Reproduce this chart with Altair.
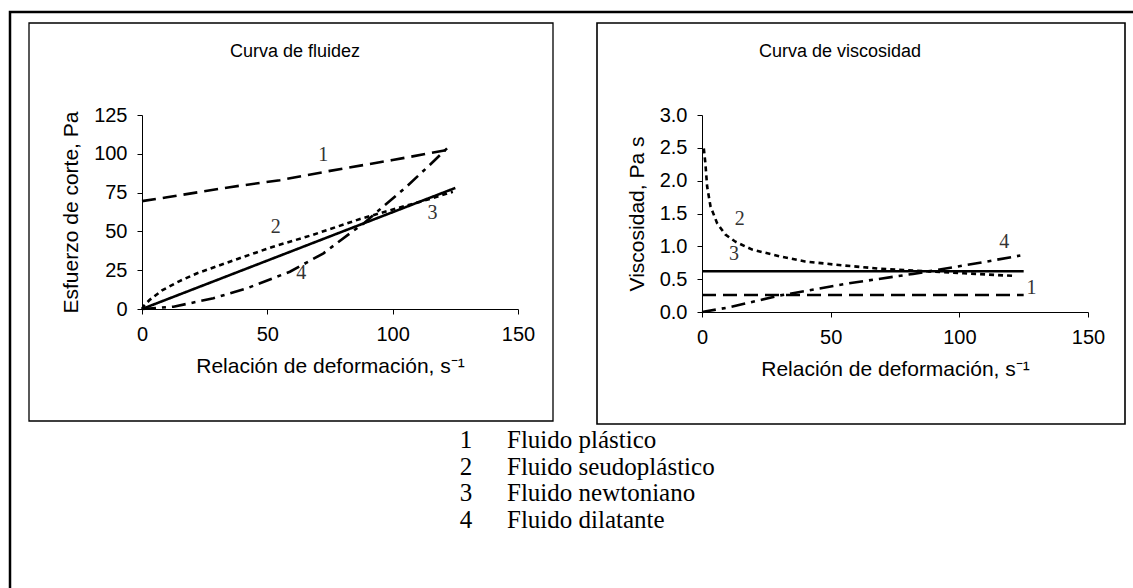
import altair as alt
import pandas as pd

W, H = 1133, 588

# ---- Curva de fluidez: relación de deformación (1/s) vs esfuerzo de corte (Pa)
plast_rate = [0, 10, 35, 55, 75, 100, 122]
plast_tau = [69.5, 72, 78.5, 83, 89, 96, 102.5]
seudo_rate = [0, 1, 3, 8, 15, 22, 35, 52, 68, 87, 102, 115, 124]
seudo_tau = [0, 2.5, 5.8, 12, 18, 23, 30.5, 40, 47.7, 58, 65, 71, 75.5]
newt_rate = [0, 125]
newt_tau = [0, 78]
dilat_rate = [0, 12.6, 28.5, 41.8, 59, 72.4, 83, 88.3, 96.2, 105.5, 114.8, 122]
dilat_tau = [0, 1.5, 6.9, 13.3, 24, 35.9, 48.8, 55, 66, 78.8, 92.8, 104]

# ---- Curva de viscosidad: relación de deformación (1/s) vs viscosidad (Pa s)
plast_v_rate = [0, 125]
plast_visc = [0.26, 0.26]
seudo_v_rate = [0.7, 1.3, 2, 3.3, 5.9, 9.1, 13, 19.5, 30, 40, 52, 69, 82, 101.6, 121]
seudo_visc = [2.49, 2.27, 1.91, 1.61, 1.35, 1.18, 1.07, 0.95, 0.85, 0.77, 0.72, 0.66, 0.63, 0.59, 0.55]
newt_v_rate = [0, 125]
newt_visc = [0.62, 0.62]
dilat_v_rate = [0, 10.4, 30, 56, 82, 108, 123.7]
dilat_visc = [0, 0.07, 0.25, 0.43, 0.58, 0.75, 0.86]

# curve number tags (position in data units)
flow_tag_id = ["1", "2", "3", "4"]
flow_tag_x = [72.3, 53.4, 115.9, 63.5]
flow_tag_y = [99.3, 53, 62, 23]
visc_tag_id = ["1", "2", "3", "4"]
visc_tag_x = [128, 14.7, 12.4, 117.5]
visc_tag_y = [0.36, 1.41, 0.89, 1.06]

# legend below the panels
legend_ids = ["1", "2", "3", "4"]
legend_names = ["Fluido plástico", "Fluido seudoplástico", "Fluido newtoniano", "Fluido dilatante"]

# axis ticks
flow_x_ticks = [0, 50, 100, 150]
flow_y_ticks = [0, 25, 50, 75, 100, 125]
visc_x_ticks = [0, 50, 100, 150]
visc_y_ticks = [0, 0.5, 1.0, 1.5, 2.0, 2.5, 3.0]


def series_frame(parts):
    rows = []
    for sid, xs, ys in parts:
        rows += [{"serie": sid, "rate": a, "val": b} for a, b in zip(xs, ys)]
    return pd.DataFrame(rows)


flow_df = series_frame([
    ("1", plast_rate, plast_tau),
    ("2", seudo_rate, seudo_tau),
    ("3", newt_rate, newt_tau),
    ("4", dilat_rate, dilat_tau),
])
visc_df = series_frame([
    ("1", plast_v_rate, plast_visc),
    ("2", seudo_v_rate, seudo_visc),
    ("3", newt_v_rate, newt_visc),
    ("4", dilat_v_rate, dilat_visc),
])
flow_tags = pd.DataFrame({"serie": flow_tag_id, "rate": flow_tag_x, "val": flow_tag_y})
visc_tags = pd.DataFrame({"serie": visc_tag_id, "rate": visc_tag_x, "val": visc_tag_y})
legend_df = pd.DataFrame({"row": list(range(len(legend_ids))), "id": legend_ids, "name": legend_names})

# pixel geometry of the two plotting regions on the page
L_X0, L_X1, L_Y0, L_Y1 = 142, 518, 309, 115
R_X0, R_X1, R_Y0, R_Y1 = 702, 1088, 312, 115

SANS = "Liberation Sans"
SERIF = "Liberation Serif"

dash_scale = alt.Scale(domain=["1", "2", "3", "4"],
                       range=[[14, 7], [5, 4], [1, 0], [14, 6, 4, 6]])


def axis(orient, offset, values, title, pad_label, pad_title, fmt=None):
    kw = dict(
        orient=orient, offset=offset, values=values, title=title, grid=False,
        domainColor="black", domainWidth=1, tickColor="black", tickWidth=1, tickSize=5,
        labelFont=SANS, labelFontSize=20, labelColor="black", labelPadding=pad_label,
        labelFlush=False, labelOverlap=False,
        titleFont=SANS, titleFontSize=21, titleFontWeight="normal", titleColor="black",
        titlePadding=pad_title,
    )
    if fmt:
        kw["format"] = fmt
    return alt.Axis(**kw)


def panel(df, tags, xs, ys, xa, ya):
    lines = alt.Chart(df).mark_line(color="black", strokeWidth=2.6).encode(
        x=alt.X("rate:Q", scale=xs, axis=xa),
        y=alt.Y("val:Q", scale=ys, axis=ya),
        strokeDash=alt.StrokeDash("serie:N", scale=dash_scale, legend=None),
        order="rate:Q",
    )
    text = alt.Chart(tags).mark_text(font=SERIF, fontSize=20, color="#333333").encode(
        x=alt.X("rate:Q", scale=xs, axis=xa),
        y=alt.Y("val:Q", scale=ys, axis=ya),
        text="serie:N",
    )
    return alt.layer(lines, text)


left = panel(
    flow_df, flow_tags,
    alt.Scale(domain=[0, 150], range=[L_X0, L_X1], nice=False, zero=False),
    alt.Scale(domain=[0, 125], range=[L_Y0, L_Y1], nice=False, zero=False),
    axis("bottom", L_Y0 - H, flow_x_ticks, "Relación de deformación, s\u207b\u00b9", 10, 11),
    axis("left", -L_X0, flow_y_ticks, "Esfuerzo de corte, Pa", 10, 12),
)
right = panel(
    visc_df, visc_tags,
    alt.Scale(domain=[0, 150], range=[R_X0, R_X1], nice=False, zero=False),
    alt.Scale(domain=[0, 3], range=[R_Y0, R_Y1], nice=False, zero=False),
    axis("bottom", R_Y0 - H, visc_x_ticks, "Relación de deformación, s\u207b\u00b9", 10, 11),
    axis("left", -R_X0, visc_y_ticks, "Viscosidad, Pa s", 10, 12, ".1f"),
)

# legend rows: one line per fluid type, stacked through a row scale
row_y = alt.Y("row:Q", scale=alt.Scale(domain=[0, 3], range=[440, 520]), axis=None)
legend = alt.layer(
    alt.Chart(legend_df).mark_text(font=SERIF, fontSize=25, color="black", align="center",
                                   baseline="middle").encode(
        x=alt.value(466), y=row_y, text="id:N"),
    alt.Chart(legend_df).mark_text(font=SERIF, fontSize=25, color="black", align="left",
                                   baseline="middle").encode(
        x=alt.value(507), y=row_y, text="name:N"),
)

one = alt.Data(values=[{}])


def frame(x1, y1, x2, y2, width):
    return alt.Chart(one).mark_rect(fill=None, stroke="black", strokeWidth=width).encode(
        x=alt.value(x1), x2=alt.value(x2), y=alt.value(y1), y2=alt.value(y2)
    )


def label(x, y, txt, size=20, font=SANS, align="center"):
    return alt.Chart(one).mark_text(font=font, fontSize=size, color="black",
                                    align=align).encode(
        x=alt.value(x), y=alt.value(y), text=alt.value(txt)
    )


outer = frame(10, 12, W + 20, H + 20, 2.5)
box_l = frame(29, 23, 553, 421, 1.3)
box_r = frame(597, 23, 1125, 424, 1.6)
title_l = label(295, 52, "Curva de fluidez", size=18)
title_r = label(840, 52, "Curva de viscosidad", size=18)

chart = alt.layer(
    outer, box_l, box_r, title_l, title_r, legend, left, right
).resolve_scale(
    x="independent", y="independent"
).properties(
    width=W, height=H, padding=0, autosize="none", background="white"
).configure_view(stroke=None)

chart.save("out.html", embed_options={"renderer": "svg", "actions": False})
